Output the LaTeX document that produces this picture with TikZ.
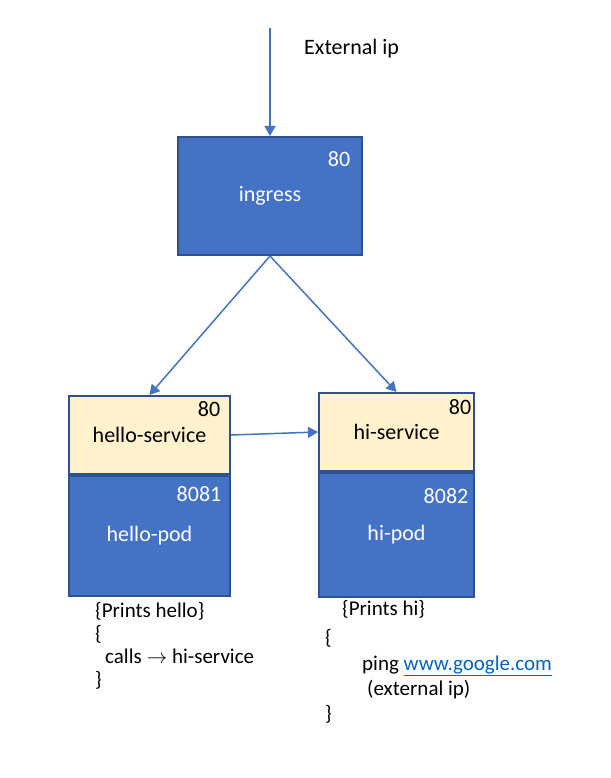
\documentclass[tikz,border=0pt]{standalone}
\usepackage{fontspec}
\setmainfont{Carlito}
\usepackage{tikz}
\usetikzlibrary{calc}
\usetikzlibrary{arrows.meta}
\usetikzlibrary{positioning}
\definecolor{boxblue}{HTML}{4472C4}
\definecolor{boxedge}{HTML}{2F528F}
\definecolor{svcfill}{HTML}{FFF2CC}
\definecolor{linkblue}{HTML}{0563C1}
\tikzstyle{block} = [draw=boxedge, fill=boxblue, rectangle, line width=2pt,
    text=white, minimum width=184pt, minimum height=118pt,
    font=\fontsize{22}{26}\selectfont]
\tikzstyle{service} = [block, fill=svcfill, text=black, minimum height=78pt]
\tikzstyle{pod} = [block, minimum height=120pt]
\tikzstyle{port} = [font=\fontsize{22}{26}\selectfont, inner sep=0pt]
\tikzstyle{note} = [font=\fontsize{21}{24}\selectfont, anchor=base west, inner sep=0pt]
\tikzstyle{link} = [draw=boxblue, line width=1.5pt, ->]

\begin{document}
\begin{tikzpicture}[x=1pt, y=-1pt, >={Triangle[length=10pt,width=11pt]}]
    \useasboundingbox (0,0) rectangle (610,778);
    % the ingress takes the outside traffic
    \node [block] (ingress) at (270,196) {\raisebox{-3pt}{ingress}};
    \node [port, text=white] (ingressport) at ($(ingress.north east)+(-24,23)$) {80};
    \coordinate (ext) at (270,28);
    \node [note, font=\fontsize{22}{26}\selectfont] (extlabel) at (304,55) {External ip};
    \draw [link] (ext) -- (ingress.north);
    % hello side
    \node [service, minimum width=161pt] (hellosvc) at (149.5,435) {hello-service};
    \node [pod, minimum width=161pt, below=0pt of hellosvc] (hellopod) {hello-pod};
    \node [port] (hellosvcport) at ($(hellosvc.north east)+(-22,14)$) {80};
    \node [port, text=white] (hellopodport) at ($(hellopod.north east)+(-32,19)$) {8081};
    % hi side
    \node [service, minimum width=155pt] (hisvc) at (396.5,432) {hi-service};
    \node [pod, minimum width=155pt, minimum height=124pt, below=0pt of hisvc] (hipod) {hi-pod};
    \node [port] (hisvcport) at ($(hisvc.north east)+(-15,15)$) {80};
    \node [port, text=white] (hipodport) at ($(hipod.north east)+(-29,24)$) {8082};
    % connections
    \draw [link] (ingress.south) -- (hellosvc.north);
    \draw [link] (ingress.south) -- (hisvc.north);
    \draw [link] (hellosvc.east) -- (hisvc.west);
    % what the pods do
    \node [note] (hellonote) at (95,617) {\{Prints hello\}};
    \node [note] (helloopen) at (95,640) {\{};
    \node [note] (hellocall) at (105,663) {calls $\rightarrow$ hi-service};
    \node [note] (helloclose) at (95,686) {\}};
    \node [note] (hinote) at (342,615) {\{Prints hi\}};
    \node [note] (hiopen) at (325,644) {\{};
    \node [note] (hiping) at (362,670) {ping \textcolor{linkblue}{\underline{www.google.com}}};
    \node [note] (hiext) at (367,695) {(external ip)};
    \node [note] (hiclose) at (325,720) {\}};
\end{tikzpicture}
\end{document}
